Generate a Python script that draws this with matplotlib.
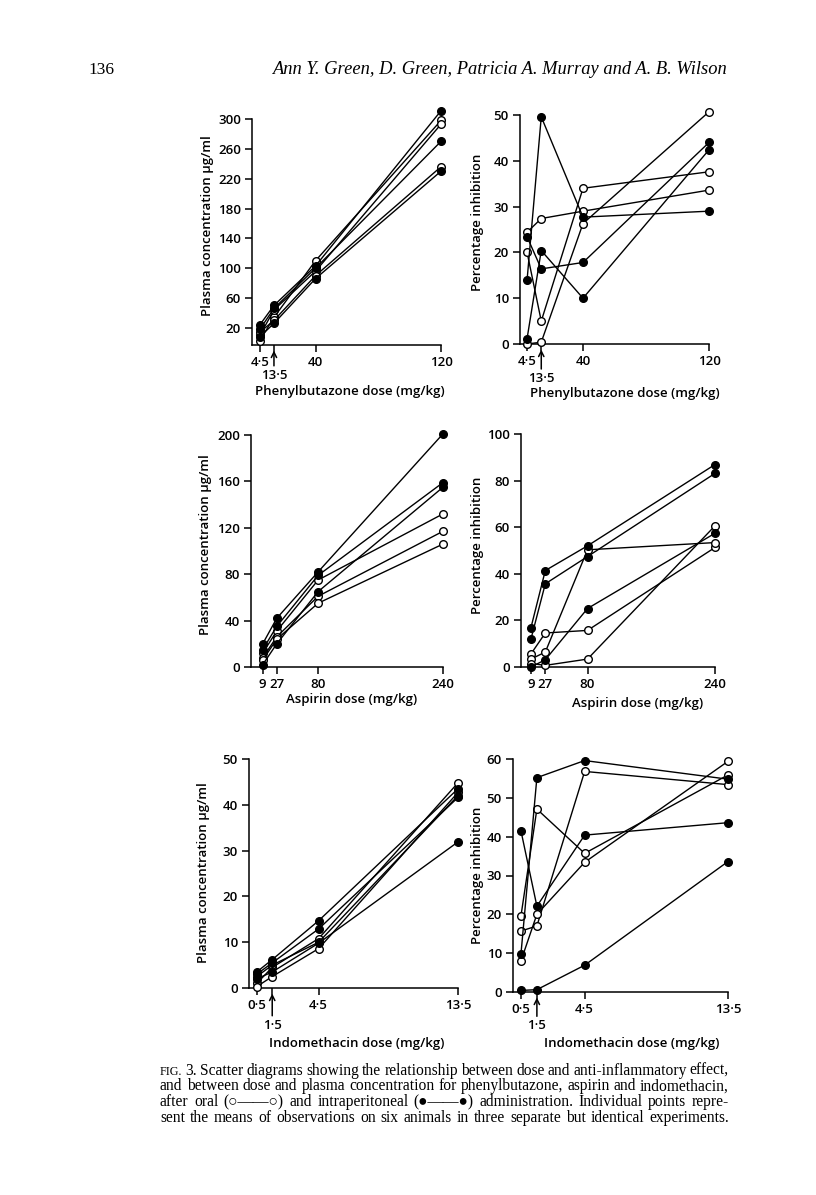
import matplotlib
matplotlib.use("Agg")
import matplotlib.pyplot as plt

plt.rcParams['font.family'] = ['Open Sans', 'DejaVu Sans']
plt.rcParams['font.weight'] = 'semibold'
plt.rcParams['axes.labelweight'] = 'semibold'
plt.rcParams['axes.linewidth'] = 1.1

W, H = 816, 1195
SERIF = ['Liberation Serif', 'DejaVu Serif']

# Phenylbutazone
pb_dose = [4.5, 13.5, 40, 120]
pb_plasma_ip = [[24, 50, 103, 311], [18, 46, 100, 270], [8, 26, 86, 230]]
pb_plasma_oral = [[3, 34, 110, 298], [10, 44, 96, 293], [14, 30, 90, 236]]
pb_inhib_ip = [[14, 49.6, 27.7, 29], [23.4, 16.4, 17.8, 44], [1.2, 20.4, 10, 42.4]]
pb_inhib_oral = [[24.4, 27.4, 29, 33.6], [20, 5, 34, 37.6], [0, 0.4, 26.3, 50.7]]

# Aspirin
asp_dose = [9, 27, 80, 240]
asp_plasma_ip = [[20, 42, 82, 201], [15, 35, 79, 159], [2, 20, 65, 155]]
asp_plasma_oral = [[12, 31, 75, 132], [8, 26, 61, 117], [6, 24, 55, 106]]
asp_inhib_ip = [[16.9, 41.4, 52, 86.9], [12, 35.7, 47.4, 83.1], [0, 3.1, 25.1, 57.4]]
asp_inhib_oral = [[5.6, 14.6, 15.7, 51.3], [3.4, 6.4, 50.3, 53.4], [1.5, 0.7, 3.4, 60.6]]

# Indomethacin
ind_dose = [0.5, 1.5, 4.5, 13.5]
ind_plasma_ip = [[3.5, 6.2, 14.7, 43.5], [3, 5.5, 12.9, 41.6], [2, 3.5, 9.8, 31.9]]
ind_plasma_oral = [[1, 4.5, 10.8, 44.8], [0.3, 2.5, 8.6, 42.7], [2.5, 5, 10, 42]]
ind_inhib_ip = [[9.8, 55.2, 59.6, 54.8], [41.5, 22.1, 40.4, 43.6], [0.4, 0.6, 6.9, 33.6]]
ind_inhib_oral = [[19.6, 47.1, 35.7, 55.9], [15.7, 17, 56.8, 53.4], [8, 20, 33.4, 59.4]]

fig = plt.figure(figsize=(W / 100, H / 100), dpi=100)


def px_rect(left, right, top, bottom):
    return [left / W, 1 - bottom / H, (right - left) / W, (bottom - top) / H]


def panel(rect, dose, ip, oral, xlim, ylim, yticks, ticklabels, arrow_label,
          arrow_off, xlabel, xlabel_px, ylabel, ylabel_px):
    ax = fig.add_axes(rect)
    for ys in oral:
        ax.plot(dose, ys, '-o', color='k', mfc='white', mec='k', ms=5.5,
                mew=1, lw=1, clip_on=False, zorder=3)
    for ys in ip:
        ax.plot(dose, ys, '-o', color='k', mfc='k', mec='k', ms=5.5,
                mew=1, lw=1, clip_on=False, zorder=3)
    ax.spines['top'].set_visible(False)
    ax.spines['right'].set_visible(False)
    ax.set_xlim(*xlim)
    ax.set_ylim(*ylim)
    ax.set_yticks(yticks)
    ax.set_xticks(dose)
    ax.set_xticklabels(ticklabels)
    ax.tick_params(direction='out', length=5, width=1.1, labelsize=9.5, pad=3)
    if arrow_label:
        ax.annotate(arrow_label, xy=(dose[1], 0), xycoords=ax.get_xaxis_transform(),
                    xytext=(0, -arrow_off), textcoords='offset points',
                    ha='center', va='top', fontsize=9.5,
                    arrowprops=dict(arrowstyle='->', lw=1.1, color='k',
                                    shrinkA=0, shrinkB=4))
    ax.set_xlabel(xlabel, fontsize=9.5, va='center')
    ax.xaxis.set_label_coords(xlabel_px[0] / W, 1 - xlabel_px[1] / H,
                              transform=fig.transFigure)
    ax.set_ylabel(ylabel, fontsize=9.5, va='center')
    ax.yaxis.set_label_coords(ylabel_px[0] / W, 1 - ylabel_px[1] / H,
                              transform=fig.transFigure)
    return ax


pb_labels = ['4·5', '', '40', '120']
asp_labels = ['9', '27', '80', '240']
ind_labels = ['0·5', '', '4·5', '13·5']

panel(px_rect(252, 441, 119, 345), pb_dose, pb_plasma_ip, pb_plasma_oral,
      (-0.5, 120), (-3, 300), [20, 60, 100, 140, 180, 220, 260, 300],
      pb_labels, '13·5', 17, 'Phenylbutazone dose (mg/kg)', (350, 392),
      'Plasma concentration μg/ml', (207, 226))
panel(px_rect(520, 709, 115, 344), pb_dose, pb_inhib_ip, pb_inhib_oral,
      (0, 120), (0, 50), [0, 10, 20, 30, 40, 50],
      pb_labels, '13·5', 20, 'Phenylbutazone dose (mg/kg)', (625, 393),
      'Percentage inhibition', (478, 222))
panel(px_rect(251, 443, 435, 667), asp_dose, asp_plasma_ip, asp_plasma_oral,
      (-6, 240), (0, 200), [0, 40, 80, 120, 160, 200],
      asp_labels, None, 0, 'Aspirin dose (mg/kg)', (352, 700),
      'Plasma concentration μg/ml', (205, 545))
panel(px_rect(521, 715, 434, 667), asp_dose, asp_inhib_ip, asp_inhib_oral,
      (-3.5, 240), (0, 100), [0, 20, 40, 60, 80, 100],
      asp_labels, None, 0, 'Aspirin dose (mg/kg)', (638, 703),
      'Percentage inhibition', (477, 545))
panel(px_rect(249, 458, 759, 988), ind_dose, ind_plasma_ip, ind_plasma_oral,
      (0, 13.5), (0, 50), [0, 10, 20, 30, 40, 50],
      ind_labels, '1·5', 22, 'Indomethacin dose (mg/kg)', (357, 1043),
      'Plasma concentration μg/ml', (203, 873))
panel(px_rect(513, 728, 759, 992), ind_dose, ind_inhib_ip, ind_inhib_oral,
      (0, 13.5), (0, 60), [0, 10, 20, 30, 40, 50, 60],
      ind_labels, '1·5', 19.5, 'Indomethacin dose (mg/kg)', (632, 1043),
      'Percentage inhibition', (477, 875))

# page header
fig.text(88 / W, 1 - 74 / H, '136', family=SERIF, fontsize=12.5,
         weight='normal', va='baseline')
fig.text(272 / W, 1 - 74 / H,
         'Ann Y. Green, D. Green, Patricia A. Murray and A. B. Wilson',
         family=SERIF, style='italic', weight='normal', fontsize=13.3,
         va='baseline')

# caption, justified between x0 and x1
caption = [
    'FIG. 3. Scatter diagrams showing the relationship between dose and anti-inflammatory effect,',
    'and between dose and plasma concentration for phenylbutazone, aspirin and indomethacin,',
    'after oral (○——○) and intraperitoneal (●——●) administration. Individual points repre-',
    'sent the means of observations on six animals in three separate but identical experiments.',
]
x0, x1 = 160, 729
renderer = fig.canvas.get_renderer()
for i, line in enumerate(caption):
    words = line.split()
    texts = []
    for w in words:
        size = 8.7 if w == 'FIG.' else 11.2
        texts.append(fig.text(0, 1 - (1075 + i * 15.5) / H, w, family=SERIF,
                              fontsize=size, weight='normal', va='baseline'))
    widths = [t.get_window_extent(renderer).width for t in texts]
    gap = (x1 - x0 - sum(widths)) / (len(words) - 1)
    x = x0
    for t, wd in zip(texts, widths):
        t.set_x(x / W)
        x += wd + gap

fig.savefig('out.png', dpi=100)
